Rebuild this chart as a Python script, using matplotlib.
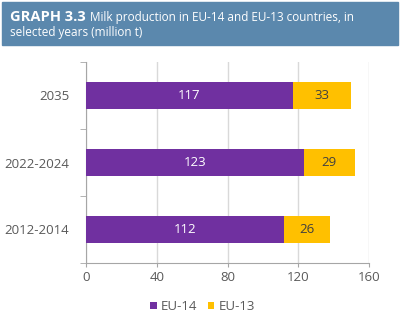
import numpy as np
import matplotlib
matplotlib.use("Agg")
import matplotlib.pyplot as plt
from matplotlib.patches import Rectangle

plt.rcParams['font.family'] = ['Open Sans', 'DejaVu Sans']

# data (million t)
periods = ['2012-2014', '2022-2024', '2035']
eu14 = [112, 123, 117]
eu13 = [26, 29, 33]
series_names = ['EU-14', 'EU-13']
xticks = [0, 40, 80, 120, 160]

purple = '#7030a0'
yellow = '#ffc000'
txt = '#595959'

fig = plt.figure(figsize=(4.01, 3.22), dpi=100)

# title band
fig.patches.append(Rectangle((2/401, 1 - 45/322), 396/401, 43/322,
                             transform=fig.transFigure, color='#5b88ad', zorder=0))
t1 = fig.text(10/401, 1 - 21/322, 'GRAPH 3.3', color='white', fontsize=10.5,
              fontweight='bold', va='baseline')
fig.canvas.draw()
x_end = t1.get_window_extent().x1
fig.text((x_end + 4)/401, 1 - 21/322, 'Milk production in EU-14 and EU-13 countries, in',
         color='white', fontsize=8.5, va='baseline')
fig.text(10/401, 1 - 36/322, 'selected years (million t)', color='white',
         fontsize=8.5, va='baseline')

ax = fig.add_axes([86/401, 59/322, 283/401, 201/322])
y = np.arange(len(periods))
h = 0.4
b1 = ax.barh(y, eu14, height=h, color=purple, label=series_names[0], zorder=3)
b2 = ax.barh(y, eu13, left=eu14, height=h, color=yellow, label=series_names[1], zorder=3)
ax.bar_label(b1, label_type='center', color='white', fontsize=9.5)
ax.bar_label(b2, label_type='center', color='#404040', fontsize=9.5)

ax.set_xlim(0, 160)
ax.set_ylim(-0.5, len(periods) - 0.5)
ax.set_xticks(xticks)
ax.set_yticks(y)
ax.set_yticklabels(periods)
ax.set_yticks(np.arange(-0.5, len(periods)), minor=True)
ax.tick_params(axis='y', which='major', length=0, pad=12, labelsize=9.5, labelcolor=txt)
ax.tick_params(axis='y', which='minor', length=4, color='#a6a6a6')
ax.tick_params(axis='x', length=3, color='#a6a6a6', pad=3, labelsize=9.5, labelcolor=txt)
ax.grid(axis='x', color='#d9d9d9', linewidth=1, zorder=0)
for s in ['top', 'right']:
    ax.spines[s].set_visible(False)
for s in ['left', 'bottom']:
    ax.spines[s].set_color('#a6a6a6')

fig.legend(handles=[b1, b2], labels=series_names, loc='center', ncol=2,
           bbox_to_anchor=(0.505, 0.047), frameon=False, fontsize=9.5,
           handlelength=0.5, handleheight=0.5, handletextpad=0.3, columnspacing=0.8,
           labelcolor=txt)

fig.savefig('out.png', dpi=100)
